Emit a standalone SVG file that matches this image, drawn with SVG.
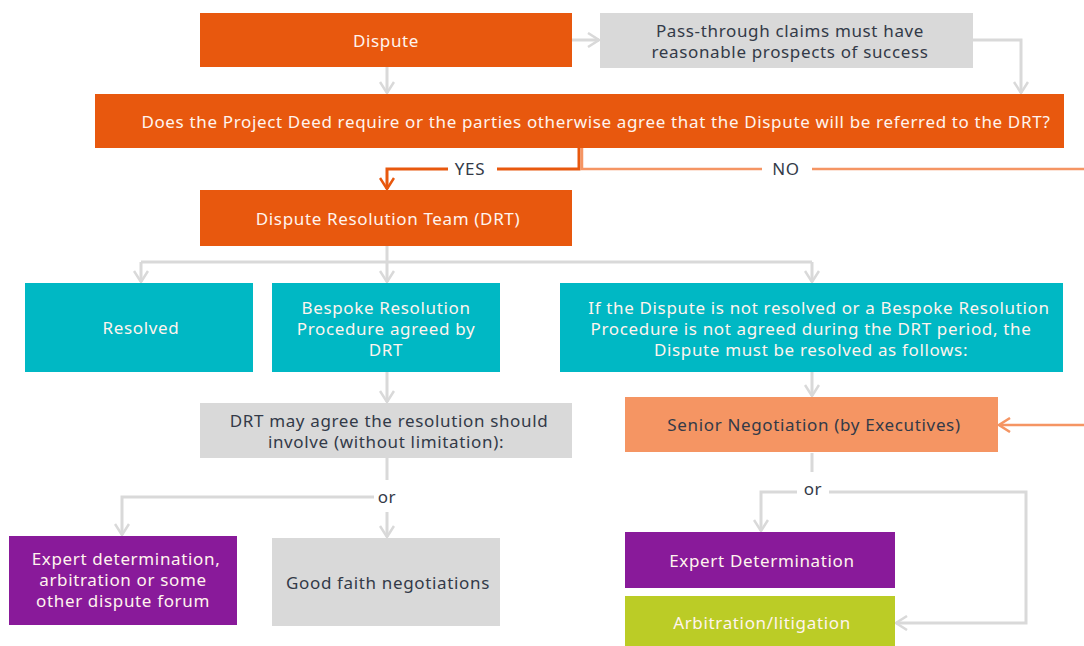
<svg xmlns="http://www.w3.org/2000/svg" width="1084" height="646" viewBox="0 0 1084 646">
<style>
.t{font-family:"Noto Sans","Liberation Sans",sans-serif;font-size:17px;letter-spacing:0.65px;text-anchor:middle;dominant-baseline:central}
.w{fill:#FFF4EE}
.d{fill:#333A48}
.g{fill:none;stroke:#D9D9D9;stroke-width:3}
.o{fill:none;stroke:#E8580E;stroke-width:3}
.lo{fill:none;stroke:#F59563;stroke-width:2.5}
</style>
<defs>
<marker id="ag" viewBox="0 0 14 16" refX="12" refY="8" markerWidth="14" markerHeight="16" markerUnits="userSpaceOnUse" orient="auto"><path d="M1,1 L12,8 L1,15" fill="none" stroke="#D9D9D9" stroke-width="2.5"/></marker>
<marker id="ao" viewBox="0 0 14 16" refX="12" refY="8" markerWidth="14" markerHeight="16" markerUnits="userSpaceOnUse" orient="auto"><path d="M1,1 L12,8 L1,15" fill="none" stroke="#E8580E" stroke-width="2.5"/></marker>
<marker id="alo" viewBox="0 0 14 16" refX="12" refY="8" markerWidth="14" markerHeight="16" markerUnits="userSpaceOnUse" orient="auto"><path d="M1,1 L12,8 L1,15" fill="none" stroke="#F59563" stroke-width="2.5"/></marker>
</defs>
<g id="connectors">
<path class="g" d="M387,67 V93" marker-end="url(#ag)"/>
<path class="g" d="M572,40 H599" marker-end="url(#ag)"/>
<path class="g" d="M973,40 H1021 V93" marker-end="url(#ag)"/>
<path class="lo" d="M582,148 V169 H762 M812,169 H1084"/>
<path class="o" d="M579,148 V169 H497 M448,169 H387 V189" marker-end="url(#ao)"/>
<path class="g" d="M387,246 V262"/>
<path class="g" d="M141,262 H812"/>
<path class="g" d="M141,262 V282" marker-end="url(#ag)"/>
<path class="g" d="M387,262 V282" marker-end="url(#ag)"/>
<path class="g" d="M812,262 V282" marker-end="url(#ag)"/>
<path class="g" d="M387,372 V402" marker-end="url(#ag)"/>
<path class="g" d="M812,372 V396" marker-end="url(#ag)"/>
<path class="g" d="M387,458 V480"/>
<path class="g" d="M374,497 H122 V535" marker-end="url(#ag)"/>
<path class="g" d="M387,512 V537" marker-end="url(#ag)"/>
<path class="lo" d="M1084,425 H999" marker-end="url(#alo)"/>
<path class="g" d="M812,453 V472"/>
<path class="g" d="M797,492 H761 V531" marker-end="url(#ag)"/>
<path class="g" d="M829,492 H1026 V623 H896" marker-end="url(#ag)"/>
<text class="t d" x="470" y="168">YES</text>
<text class="t d" x="786" y="168">NO</text>
<text class="t d" x="387" y="496">or</text>
<text class="t d" x="813" y="488">or</text>
</g>
<g id="dispute"><rect x="200" y="13" width="372" height="54" fill="#E8580E"/><text class="t w" x="386" y="40">Dispute</text></g>
<g id="passthrough"><rect x="600" y="13" width="373" height="55" fill="#D9D9D9"/><text class="t d" x="790" y="30">Pass-through claims must have</text><text class="t d" x="790" y="51">reasonable prospects of success</text></g>
<g id="question"><rect x="95" y="94" width="969" height="54" fill="#E8580E"/><text class="t w" x="596" y="121">Does the Project Deed require or the parties otherwise agree that the Dispute will be referred to the DRT?</text></g>
<g id="drt"><rect x="200" y="190" width="372" height="56" fill="#E8580E"/><text class="t w" x="388" y="218">Dispute Resolution Team (DRT)</text></g>
<g id="resolved"><rect x="25" y="283" width="228" height="89" fill="#00B8C4"/><text class="t w" x="141" y="327">Resolved</text></g>
<g id="bespoke"><rect x="272" y="283" width="228" height="89" fill="#00B8C4"/><text class="t w" x="386" y="307">Bespoke Resolution</text><text class="t w" x="386" y="328">Procedure agreed by</text><text class="t w" x="386" y="349">DRT</text></g>
<g id="notresolved"><rect x="560" y="283" width="503" height="89" fill="#00B8C4"/><text class="t w" x="819" y="307">If the Dispute is not resolved or a Bespoke Resolution</text><text class="t w" x="811" y="328">Procedure is not agreed during the DRT period, the</text><text class="t w" x="811" y="349">Dispute must be resolved as follows:</text></g>
<g id="drtmay"><rect x="200" y="403" width="372" height="55" fill="#D9D9D9"/><text class="t d" x="389" y="420">DRT may agree the resolution should</text><text class="t d" x="386" y="441">involve (without limitation):</text></g>
<g id="senior"><rect x="625" y="397" width="373" height="55" fill="#F59563"/><text class="t d" x="814" y="424">Senior Negotiation (by Executives)</text></g>
<g id="expertleft"><rect x="9" y="536" width="228" height="89" fill="#891A9A"/><text class="t w" x="126" y="558">Expert determination,</text><text class="t w" x="123" y="579">arbitration or some</text><text class="t w" x="123" y="600">other dispute forum</text></g>
<g id="goodfaith"><rect x="272" y="538" width="228" height="88" fill="#D9D9D9"/><text class="t d" x="388" y="582">Good faith negotiations</text></g>
<g id="expertdet"><rect x="625" y="532" width="270" height="56" fill="#891A9A"/><text class="t w" x="762" y="560">Expert Determination</text></g>
<g id="arbitration"><rect x="625" y="596" width="270" height="50" fill="#BBCC26"/><text class="t w" x="762" y="622">Arbitration/litigation</text></g>
</svg>
